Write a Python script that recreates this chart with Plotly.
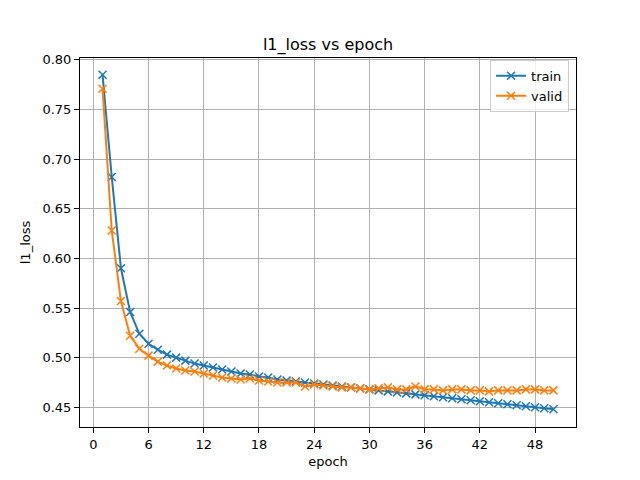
import plotly.graph_objects as go

# ── Dados ─────────────────────────────────────────────────────────────────────
epochs = list(range(1, 51))

train_loss = [
    0.785, 0.682, 0.590, 0.546, 0.524, 0.514, 0.508, 0.503, 0.500, 0.497,
    0.494, 0.492, 0.490, 0.488, 0.486, 0.484, 0.483, 0.481, 0.480, 0.478,
    0.477, 0.476, 0.475, 0.474, 0.473, 0.472, 0.471, 0.470, 0.469, 0.468,
    0.467, 0.466, 0.465, 0.464, 0.463, 0.462, 0.461, 0.460, 0.459, 0.458,
    0.457, 0.456, 0.455, 0.454, 0.453, 0.452, 0.451, 0.450, 0.449, 0.448,
]

valid_loss = [
    0.771, 0.628, 0.557, 0.522, 0.509, 0.502, 0.496, 0.492, 0.489, 0.487,
    0.486, 0.484, 0.482, 0.480, 0.479, 0.478, 0.479, 0.477, 0.476, 0.475,
    0.475, 0.475, 0.471, 0.473, 0.472, 0.471, 0.470, 0.470, 0.469, 0.468,
    0.469, 0.470, 0.468, 0.468, 0.471, 0.468, 0.468, 0.467, 0.468, 0.468,
    0.467, 0.467, 0.466, 0.467, 0.467, 0.467, 0.468, 0.468, 0.467, 0.467,
]

x_ticks = [0, 6, 12, 18, 24, 30, 36, 42, 48]
y_ticks = [0.45, 0.50, 0.55, 0.60, 0.65, 0.70, 0.75, 0.80]

SERIES = [("train", train_loss, "#1f77b4"), ("valid", valid_loss, "#ff7f0e")]

fig = go.Figure()
for name, vals, color in SERIES:
    fig.add_trace(go.Scatter(
        x=epochs, y=vals, name=name, mode="lines+markers",
        line=dict(color=color, width=2),
        marker=dict(symbol="x-thin", size=8, line=dict(width=1.5, color=color), color=color),
    ))

axis_common = dict(
    showgrid=True, gridcolor="#b0b0b0", gridwidth=1,
    showline=True, linecolor="black", linewidth=1, mirror=True,
    ticks="outside", ticklen=5, tickcolor="black",
    zeroline=False, tickfont=dict(size=13, color="black"),
    title_font=dict(size=13, color="black"),
)

# a página tem 8px de margem no body: compensa nas margens da figura
fig.update_layout(
    width=640, height=480,
    paper_bgcolor="white", plot_bgcolor="white",
    font=dict(family="DejaVu Sans", color="black"),
    margin=dict(l=72, r=72, t=50, b=61, autoexpand=False),
    title=dict(text="l1_loss vs epoch", x=(328 - 8) / 640, xanchor="center",
               y=1 - 36 / 480, yanchor="middle", font=dict(size=16)),
    xaxis=dict(axis_common, range=[-1.45, 52.45], tickvals=x_ticks,
               title=dict(text="epoch", standoff=6)),
    yaxis=dict(axis_common, range=[0.4301, 0.8019], tickvals=y_ticks,
               tickformat=".2f", title=dict(text="l1_loss", standoff=8)),
    legend=dict(x=0.986, y=0.995, xanchor="right", yanchor="top",
                bgcolor="rgba(255,255,255,0.8)", bordercolor="#cccccc", borderwidth=1,
                font=dict(size=13), tracegroupgap=4),
    showlegend=True,
)

fig.write_html("out.html")
